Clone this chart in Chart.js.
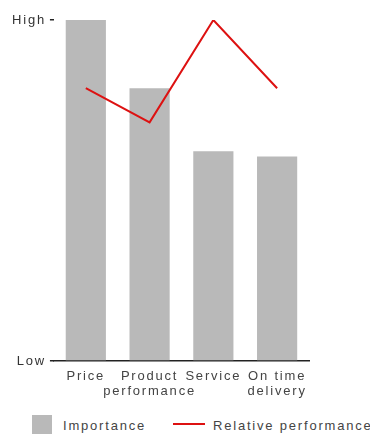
<!DOCTYPE html>
<html>
<head>
<meta charset="utf-8">
<script src="https://cdn.jsdelivr.net/npm/chart.js@4/dist/chart.umd.min.js"></script>
<style>
  html, body { margin: 0; padding: 0; background: #fff; }
  #wrap { position: relative; width: 370px; height: 434px; overflow: hidden; }
  #chart { position: absolute; left: 0; top: 0; }
  .legend { position: absolute; top: 418px; font: 13px "Liberation Sans", Arial, sans-serif; letter-spacing: 1.8px; color: #444; white-space: nowrap; }
  .swatch { position: absolute; }
</style>
</head>
<body>
<div id="wrap">
  <canvas id="chart" width="370" height="407"></canvas>
  <div class="swatch" style="left:32px; top:415px; width:20px; height:24px; background:#b9b9b9;"></div>
  <div class="legend" style="left:63px;">Importance</div>
  <div class="swatch" style="left:173px; top:423px; width:32px; height:2px; background:#dd1111;"></div>
  <div class="legend" style="left:213px;">Relative performance</div>
</div>
<script>
const categories = ['Price', ['Product', 'performance'], 'Service', ['On time', 'delivery']];
const importance = [10, 8, 6.15, 6.0];
const relativePerformance = [8, 7, 10, 8];
const levelLabels = { 0: 'Low', 10: 'High' };

const barColor = '#b9b9b9';
const lineColor = '#dd1111';

// wide letter spacing for all axis text
const spacedText = {
  id: 'spacedText',
  beforeLayout: chart => { chart.ctx.letterSpacing = '1.8px'; },
  beforeDraw: chart => { chart.ctx.letterSpacing = '1.8px'; }
};

new Chart(document.getElementById('chart'), {
  type: 'bar',
  data: {
    labels: categories,
    datasets: [
      {
        type: 'line',
        label: 'Relative performance',
        data: relativePerformance,
        borderColor: lineColor,
        borderWidth: 2,
        pointRadius: 0,
        tension: 0,
        fill: false,
        order: 0
      },
      {
        label: 'Importance',
        data: importance,
        backgroundColor: barColor,
        categoryPercentage: 1,
        barPercentage: 0.63,
        order: 1
      }
    ]
  },
  plugins: [spacedText],
  options: {
    responsive: false,
    animation: false,
    layout: { padding: { top: 20, right: 61, left: 8, bottom: 0 } },
    plugins: {
      legend: { display: false },
      tooltip: { enabled: false }
    },
    scales: {
      x: {
        grid: { display: false, drawTicks: false },
        border: { display: true, color: '#222', width: 1.5 },
        ticks: {
          color: '#444',
          padding: 8,
          maxRotation: 0,
          autoSkip: false,
          font: { family: 'Liberation Sans', size: 13, lineHeight: 1.15 }
        }
      },
      y: {
        min: 0,
        max: 10,
        afterBuildTicks: axis => { axis.ticks = [{ value: 0 }, { value: 10 }]; },
        grid: { drawOnChartArea: false, drawTicks: true, tickLength: 4, color: '#222', lineWidth: 1.5 },
        border: { display: false },
        ticks: {
          color: '#333',
          padding: 4,
          font: { family: 'Liberation Sans', size: 13 },
          callback: v => levelLabels[v] || ''
        }
      }
    }
  }
});
</script>
</body>
</html>
